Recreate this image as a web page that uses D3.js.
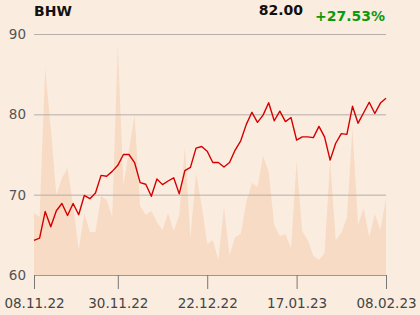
<!DOCTYPE html>
<html>
<head>
<meta charset="utf-8">
<script src="https://cdn.jsdelivr.net/npm/d3@7"></script>
<style>
  body { margin: 0; background: #fbece0; }
  svg { display: block; font-family: "DejaVu Sans", sans-serif; }
</style>
</head>
<body>
<div id="chart"></div>
<script>
// closing prices, one per trading day
const prices = [64.30, 64.6, 67.9, 66.0, 68.0, 68.9, 67.4, 68.9, 67.5, 69.9,
  69.5, 70.2, 72.4, 72.3, 72.9, 73.65, 75.0, 75.0, 74.0, 71.5,
  71.3, 69.8, 71.95, 71.25, 71.7, 72.1, 70.1, 73.0, 73.4, 75.8,
  76.0, 75.4, 74.0, 74.0, 73.45, 74.0, 75.55, 76.7, 78.75, 80.25,
  79.0, 79.9, 81.45, 79.2, 80.4, 79.1, 79.6, 76.8, 77.2, 77.2,
  77.1, 78.5, 77.2, 74.3, 76.4, 77.6, 77.5, 81.0, 78.9, 80.2,
  81.5, 80.1, 81.4, 82.0]

// traded volume (relative units)
const volumes = [62, 58, 207, 147, 80, 97, 107, 70, 25, 62,
  43, 43, 79, 75, 58, 231, 89, 125, 160, 69,
  60, 64, 53, 45, 62, 44, 60, 128, 37, 102,
  70, 31, 35, 15, 68, 20, 38, 41, 73, 92,
  88, 119, 103, 50, 39, 41, 27, 114, 44, 35,
  19, 15, 22, 115, 35, 42, 57, 147, 50, 67,
  38, 61, 45, 77]

const tickIdx = [0, 15, 31, 47, 63]
const tickLabels = ["08.11.22", "30.11.22", "22.12.22", "17.01.23", "08.02.23"]
const yTicks = [60, 70, 80, 90]

const symbol = "BHW"
const lastPrice = "82.00"
const change = "+27.53%"

const W = 420, H = 315
const mLeft = 34, mRight = 386, mTop = 34, mBottom = 275

let svg = d3.select("#chart").append("svg")
  .attr("width", W)
  .attr("height", H)

svg.append("rect")
  .attr("width", W)
  .attr("height", H)
  .attr("fill", "#fbece0")

let x = d3.scaleLinear().domain([0, prices.length - 1]).range([mLeft, mRight])
let y = d3.scaleLinear().domain([60, 90]).range([mBottom, mTop])
let yv = d3.scaleLinear().domain([0, 241]).range([mBottom, mTop])

// volume area
let area = d3.area()
  .x((d, i) => x(i))
  .y0(mBottom)
  .y1(d => yv(d))

svg.append("path")
  .datum(volumes)
  .attr("d", area)
  .attr("fill", "#f8dbc4")

// grid lines
svg.selectAll(".grid")
  .data(yTicks.filter(t => t > 60))
  .enter()
  .append("line")
  .attr("x1", mLeft)
  .attr("x2", mRight)
  .attr("y1", d => y(d) + 0.5)
  .attr("y2", d => y(d) + 0.5)
  .attr("stroke", "#b5aea9")
  .attr("stroke-width", 1)

// y labels
svg.selectAll(".ylab")
  .data(yTicks)
  .enter()
  .append("text")
  .attr("x", 26)
  .attr("y", d => y(d) + 5)
  .attr("text-anchor", "end")
  .attr("fill", "#555")
  .style("font-size", "13.5px")
  .text(d => d)

// x axis
let xAxis = d3.axisBottom(x)
  .tickValues(tickIdx)
  .tickFormat((d, i) => tickLabels[i])
  .tickSize(14)
  .tickPadding(9)

let gx = svg.append("g")
  .attr("transform", "translate(0," + mBottom + ")")
  .call(xAxis)

gx.select(".domain").attr("stroke", "#999").attr("d", "M" + mLeft + ",0.5H" + mRight)
gx.selectAll(".tick line").attr("stroke", "#777")
gx.selectAll(".tick text")
  .attr("fill", "#444")
  .style("font-size", "13.5px")
  .style("font-family", "DejaVu Sans, sans-serif")

// price line
let line = d3.line()
  .x((d, i) => x(i))
  .y(d => y(d))

svg.append("path")
  .datum(prices)
  .attr("d", line)
  .attr("fill", "none")
  .attr("stroke", "#d40000")
  .attr("stroke-width", 1.4)
  .attr("stroke-linejoin", "round")

// header
svg.append("text")
  .attr("x", 34)
  .attr("y", 16)
  .text(symbol)
  .attr("fill", "#111")
  .style("font-size", "14px")
  .style("font-weight", "bold")

svg.append("text")
  .attr("x", 303)
  .attr("y", 15)
  .attr("text-anchor", "end")
  .text(lastPrice)
  .attr("fill", "#111")
  .style("font-size", "14px")
  .style("font-weight", "bold")

svg.append("text")
  .attr("x", 385)
  .attr("y", 21)
  .attr("text-anchor", "end")
  .text(change)
  .attr("fill", "#0c9a0c")
  .style("font-size", "14px")
  .style("font-weight", "bold")
</script>
</body>
</html>
